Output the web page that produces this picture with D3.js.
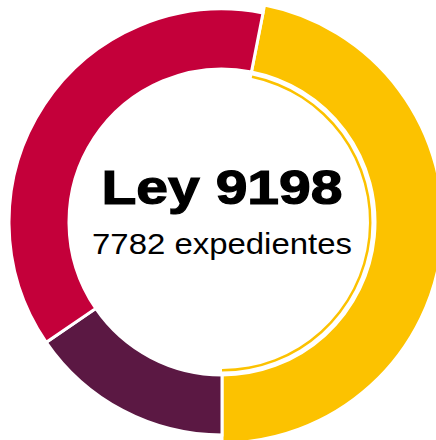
<!DOCTYPE html>
<html>
<head>
<meta charset="utf-8">
<script src="https://cdn.jsdelivr.net/npm/d3@7"></script>
<style>
  html, body { margin: 0; padding: 0; background: #fff; overflow: hidden; }
</style>
</head>
<body>
<script>
// slices, in drawing order starting from the top-right boundary
const categories = ["Categoría A", "Categoría B", "Categoría C"];
const values = [3651, 1202, 2929];
const colors = ["#fcc200", "#5b1843", "#c4003a"];
const highlighted = "Categoría A";

const title = "Ley 9198";
const subtitle = d3.sum(values) + " expedientes";

const width = 436, height = 440;
const cx = 222, cy = 222;
const outerR = 213, innerR = 153;

const svg = d3.select("body").append("svg")
    .attr("width", width)
    .attr("height", height);

const g = svg.append("g")
    .attr("transform", `translate(${cx},${cy})`);

const start = 11.1 * Math.PI / 180;
const pie = d3.pie()
    .sort(null)
    .startAngle(start)
    .endAngle(start + 2 * Math.PI)
    .value((d, i) => values[i]);

const arcs = pie(categories);

const arc = d3.arc()
    .innerRadius(innerR)
    .outerRadius(d => categories[d.index] === highlighted ? outerR + 8 : outerR);

g.selectAll("path.slice")
    .data(arcs)
    .join("path")
    .attr("class", "slice")
    .attr("d", arc)
    .attr("fill", (d, i) => colors[i])
    .attr("stroke", "#fff")
    .attr("stroke-width", 3);

// thin inner ring for the highlighted slice
const ring = d3.arc().innerRadius(147).outerRadius(149.5);
g.selectAll("path.ring")
    .data(arcs.filter(d => categories[d.index] === highlighted))
    .join("path")
    .attr("class", "ring")
    .attr("d", d => ring({startAngle: d.startAngle + 0.01, endAngle: d.endAngle}))
    .attr("fill", (d) => colors[d.index]);

g.append("text")
    .attr("x", 0)
    .attr("y", -18)
    .attr("text-anchor", "middle")
    .attr("textLength", 241)
    .attr("lengthAdjust", "spacingAndGlyphs")
    .style("font", "bold 48px 'Liberation Sans', Arial, sans-serif")
    .attr("fill", "#000")
    .attr("stroke", "#000")
    .attr("stroke-width", 1.2)
    .text(title);

g.append("text")
    .attr("x", 0)
    .attr("y", 32)
    .attr("text-anchor", "middle")
    .attr("textLength", 260)
    .attr("lengthAdjust", "spacingAndGlyphs")
    .style("font", "30px 'Liberation Sans', Arial, sans-serif")
    .attr("fill", "#000")
    .text(subtitle);
</script>
</body>
</html>
